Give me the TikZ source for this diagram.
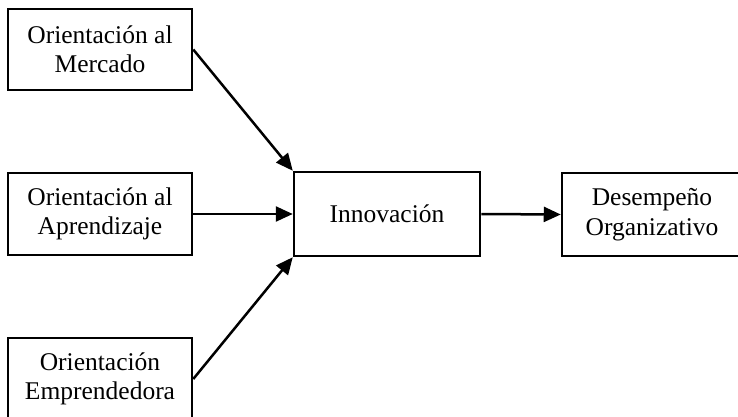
\documentclass[tikz,border=0pt]{standalone}
\usepackage{fontspec}
\setmainfont{Liberation Serif}
\usetikzlibrary{arrows.meta}
\begin{document}
\begin{tikzpicture}[x=1pt,y=-1pt,
  box/.style={draw,line width=2.5pt,inner sep=0pt,align=center,
    font=\fontsize{25.5}{29.5}\selectfont},
  conn/.style={line width=2.5pt,-{Triangle[length=17pt,width=15pt]}}]
\useasboundingbox (0,0) rectangle (738,417);
\clip (0,0) rectangle (738,417);
\node[box,minimum width=184pt,minimum height=81pt] (a) at (100,49.5) {Orientación al\\Mercado};
\node[box,minimum width=184pt,minimum height=82pt] (b) at (100,214) {Orientación al\\Aprendizaje};
\node[box,minimum width=184pt,minimum height=82pt] (c) at (100,379) {Orientación\\Emprendedora};
\node[box,minimum width=186pt,minimum height=84pt] (d) at (387,214) {Innovación};
\node[box,minimum width=180pt,minimum height=83pt] (e) at (652,214.5) {Desempeño\\Organizativo};
\draw[conn] (a.east) -- (d.north west);
\draw[conn] (b.east) -- (d.west);
\draw[conn] (c.east) -- (d.south west);
\draw[conn] (d.east) -- (e.west);
\end{tikzpicture}
\end{document}
